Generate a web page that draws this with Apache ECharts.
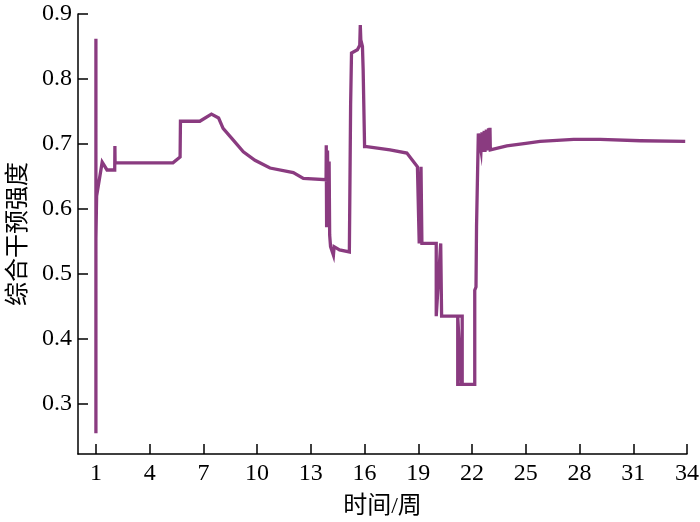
<!DOCTYPE html>
<html>
<head>
<meta charset="utf-8">
<script src="https://cdn.jsdelivr.net/npm/echarts@6/dist/echarts.min.js"></script>
<style>html,body{margin:0;padding:0;background:#fff;}#c{width:700px;height:522px;}</style>
</head>
<body>
<div id="c"></div>
<script>
const weeks = [1.00,1.00,1.00,1.04,1.35,1.62,2.05,2.06,2.07,5.30,5.70,5.72,6.80,7.45,7.85,8.10,8.67,9.23,9.88,10.72,12.02,12.58,13.85,13.86,13.88,13.93,13.97,14.02,14.05,14.10,14.26,14.30,14.60,15.15,15.20,15.22,15.27,15.60,15.73,15.76,15.79,15.88,15.92,16.00,16.12,17.42,18.36,18.95,19.05,19.05,19.15,19.15,19.20,19.20,20.00,20.00,20.05,20.25,20.30,20.30,21.45,21.45,21.20,21.20,21.30,21.40,22.15,22.15,22.10,22.15,22.22,22.25,22.30,22.35,22.45,22.50,22.55,22.60,22.68,22.72,22.80,22.84,22.92,22.96,23.00,23.02,23.94,25.00,25.80,27.67,29.16,31.40,33.90];
const intensity = [0.862,0.255,0.555,0.620,0.672,0.660,0.660,0.697,0.671,0.671,0.680,0.735,0.735,0.746,0.740,0.724,0.706,0.688,0.675,0.663,0.656,0.647,0.645,0.698,0.572,0.690,0.580,0.673,0.560,0.542,0.529,0.542,0.537,0.534,0.534,0.760,0.840,0.845,0.852,0.883,0.860,0.850,0.814,0.696,0.696,0.691,0.686,0.665,0.665,0.547,0.547,0.665,0.665,0.547,0.547,0.435,0.435,0.547,0.547,0.435,0.435,0.330,0.330,0.435,0.435,0.330,0.330,0.360,0.360,0.475,0.480,0.573,0.575,0.716,0.714,0.690,0.718,0.688,0.720,0.688,0.722,0.690,0.724,0.691,0.725,0.691,0.697,0.701,0.704,0.707,0.707,0.705,0.704];
const xTicks = [1,4,7,10,13,16,19,22,25,28,31,34];
const yTicks = [0.3,0.4,0.5,0.6,0.7,0.8,0.9];
const xName = '时间/周';
const yName = '综合干预强度';

const FONT = "'Liberation Serif', 'Noto Sans CJK SC', serif";
const data = weeks.map((w, i) => [w, intensity[i]]);
const chart = echarts.init(document.getElementById('c'), null, {renderer: 'canvas'});
chart.setOption({
  animation: false,
  backgroundColor: '#fff',
  textStyle: {fontFamily: FONT},
  grid: {left: 78, right: 13, top: 14, bottom: 68, containLabel: false, outerBoundsMode: 'none'},
  xAxis: {
    type: 'value', min: 0, max: 34,
    name: xName, nameLocation: 'middle', nameGap: 41,
    nameTextStyle: {fontFamily: FONT, fontSize: 24, color: '#000'},
    axisLine: {show: true, lineStyle: {color: '#000', width: 1.5}},
    axisTick: {show: true, inside: true, length: 10, customValues: xTicks, lineStyle: {color: '#000', width: 1.5}},
    axisLabel: {customValues: xTicks, margin: 8, fontFamily: FONT, fontSize: 24, color: '#000'},
    splitLine: {show: false}
  },
  yAxis: {
    type: 'value', min: 0.223, max: 0.9,
    name: yName, nameLocation: 'middle', nameGap: 46, nameRotate: 90,
    nameTextStyle: {fontFamily: FONT, fontSize: 24, color: '#000'},
    axisLine: {show: true, lineStyle: {color: '#000', width: 1.5}},
    axisTick: {show: true, inside: true, length: 10, customValues: yTicks, lineStyle: {color: '#000', width: 1.5}},
    axisLabel: {customValues: yTicks, margin: 6, fontFamily: FONT, fontSize: 24, color: '#000', formatter: v => v.toFixed(1)},
    splitLine: {show: false}
  },
  series: [{
    type: 'line', data: data, showSymbol: false, symbol: 'none',
    lineStyle: {color: '#8a3b80', width: 3.3, join: 'miter'},
    itemStyle: {color: '#8a3b80'}
  }]
});
</script>
</body>
</html>
